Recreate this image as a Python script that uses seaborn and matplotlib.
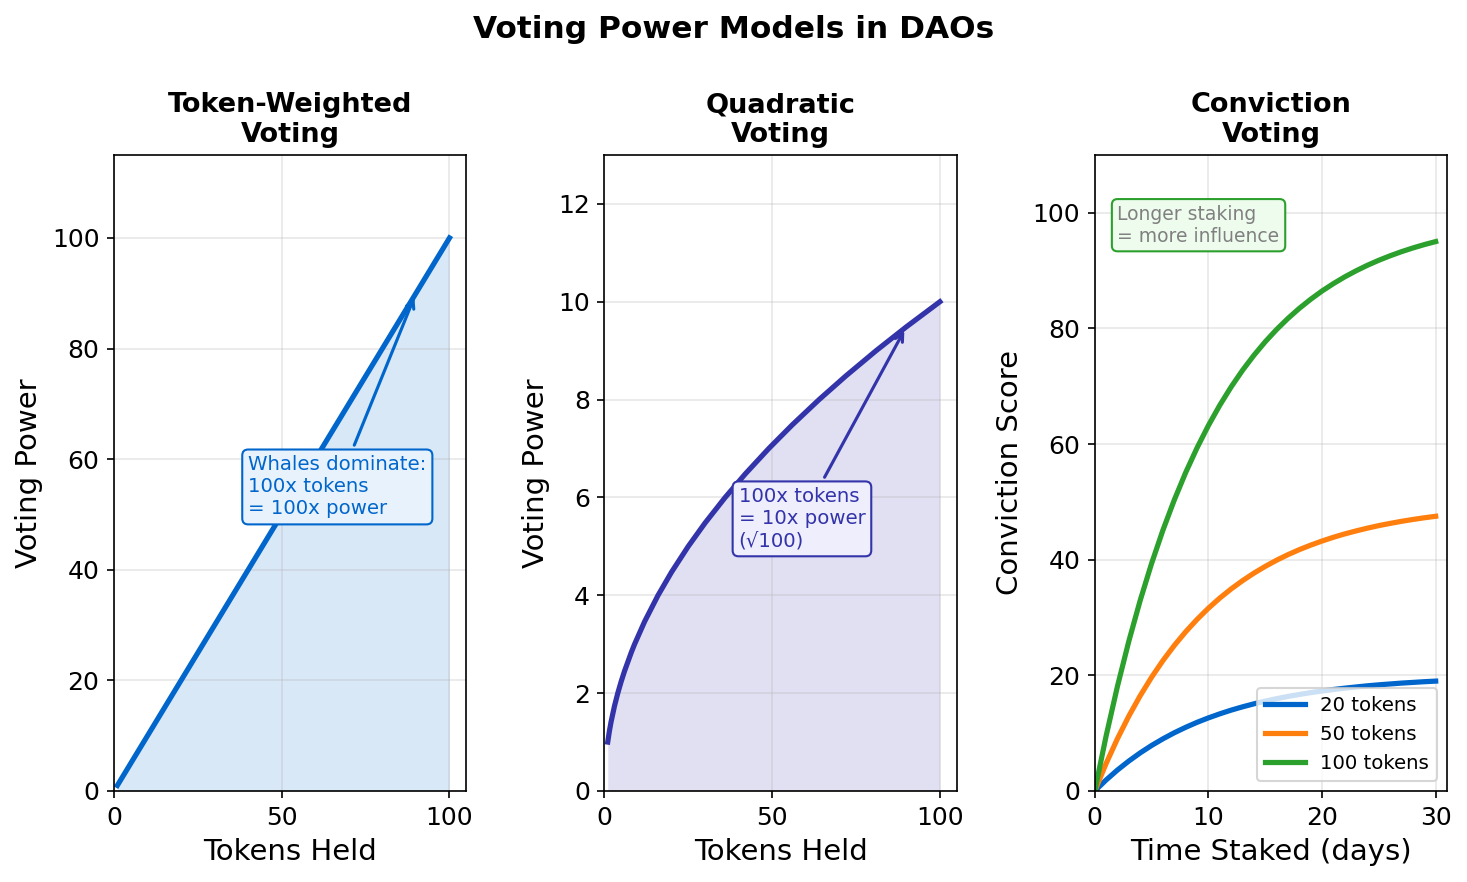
import matplotlib
matplotlib.use("Agg")
import matplotlib.pyplot as plt
import seaborn as sns
import pandas as pd

## values

# token-weighted voting: power equals tokens
tw_tokens = [1, 100]
tw_power = [1, 100]

# quadratic voting: power grows as the square root of tokens
qv_tokens = [1, 1.5, 2, 3, 4, 5, 6, 8, 9, 12, 16, 20, 25, 30, 36, 42, 49, 56, 64, 72, 81, 90, 100]
qv_power = [1.0, 1.225, 1.414, 1.732, 2.0, 2.236, 2.449, 2.828, 3.0, 3.464, 4.0, 4.472,
            5.0, 5.477, 6.0, 6.481, 7.0, 7.483, 8.0, 8.485, 9.0, 9.487, 10.0]

# conviction voting: score builds up with days staked
cv_days = list(range(31))
cv_100 = [0.0, 9.52, 18.13, 25.92, 32.97, 39.35, 45.12, 50.34, 55.07, 59.34, 63.21,
          66.71, 69.88, 72.75, 75.34, 77.69, 79.81, 81.73, 83.47, 85.04, 86.47,
          87.75, 88.92, 89.97, 90.93, 91.79, 92.57, 93.28, 93.92, 94.50, 95.02]
cv_50 = [0.0, 4.76, 9.06, 12.96, 16.48, 19.67, 22.56, 25.17, 27.53, 29.67, 31.61,
         33.36, 34.94, 36.37, 37.67, 38.84, 39.91, 40.87, 41.74, 42.52, 43.23,
         43.88, 44.46, 44.98, 45.46, 45.90, 46.28, 46.64, 46.96, 47.25, 47.51]
cv_20 = [0.0, 1.90, 3.63, 5.18, 6.59, 7.87, 9.02, 10.07, 11.01, 11.87, 12.64,
         13.34, 13.98, 14.55, 15.07, 15.54, 15.96, 16.35, 16.69, 17.01, 17.29,
         17.55, 17.78, 17.99, 18.19, 18.36, 18.51, 18.66, 18.78, 18.90, 19.00]
cv_labels = ["20 tokens", "50 tokens", "100 tokens"]

blue = "#0066cc"
indigo = "#3333aa"
cv_palette = {"20 tokens": blue, "50 tokens": "#ff7f0e", "100 tokens": "#2ca02c"}

plt.rcParams["font.size"] = 12

fig, axes = plt.subplots(1, 3, figsize=(9.78, 5.88), dpi=150)
fig.subplots_adjust(left=0.0777, right=0.9864, top=0.8243, bottom=0.1032, wspace=0.392)
fig.suptitle("Voting Power Models in DAOs", fontsize=15, fontweight="bold", y=0.983)

## Token-weighted
ax = axes[0]
sns.lineplot(x=tw_tokens, y=tw_power, ax=ax, color=blue, lw=2.5)
ax.fill_between(tw_tokens, tw_power, color=blue, alpha=0.15, lw=0)
ax.set_xlim(0, 105)
ax.set_ylim(0, 115)
ax.set_title("Token-Weighted\nVoting", fontsize=13, fontweight="bold")
ax.set_xlabel("Tokens Held", fontsize=14)
ax.set_ylabel("Voting Power", fontsize=14)
ax.annotate("Whales dominate:\n100x tokens\n= 100x power", xy=(90, 90), xytext=(40, 50),
            fontsize=9.5, color=blue,
            arrowprops=dict(arrowstyle="->", color=blue, lw=1.5),
            bbox=dict(boxstyle="round,pad=0.3", facecolor="#e8f2fc", edgecolor=blue))

## Quadratic
ax = axes[1]
sns.lineplot(x=qv_tokens, y=qv_power, ax=ax, color=indigo, lw=2.5)
ax.fill_between(qv_tokens, qv_power, color=indigo, alpha=0.15, lw=0)
ax.set_xlim(0, 105)
ax.set_ylim(0, 13)
ax.set_title("Quadratic\nVoting", fontsize=13, fontweight="bold")
ax.set_xlabel("Tokens Held", fontsize=14)
ax.set_ylabel("Voting Power", fontsize=14)
ax.annotate("100x tokens\n= 10x power\n(√100)", xy=(90, 9.49), xytext=(40, 5),
            fontsize=9.5, color=indigo,
            arrowprops=dict(arrowstyle="->", color=indigo, lw=1.5),
            bbox=dict(boxstyle="round,pad=0.3", facecolor="#eeeefc", edgecolor=indigo))

## Conviction
ax = axes[2]
cv = pd.DataFrame({
    "day": cv_days * 3,
    "score": cv_20 + cv_50 + cv_100,
    "stake": [cv_labels[0]] * 31 + [cv_labels[1]] * 31 + [cv_labels[2]] * 31,
})
sns.lineplot(data=cv, x="day", y="score", hue="stake", palette=cv_palette, ax=ax, lw=2.5)
ax.set_xlim(0, 31)
ax.set_ylim(0, 110)
ax.set_title("Conviction\nVoting", fontsize=13, fontweight="bold")
ax.set_xlabel("Time Staked (days)", fontsize=14)
ax.set_ylabel("Conviction Score", fontsize=14)
ax.legend(loc="lower right", fontsize=9.5, title=None)
ax.text(2, 95, "Longer staking\n= more influence", fontsize=9, color="gray",
        bbox=dict(boxstyle="round,pad=0.3", facecolor="#eefcee", edgecolor="#2ca02c"))

for ax in axes:
    ax.grid(True, alpha=0.3)

plt.savefig("out.png", dpi=150)
